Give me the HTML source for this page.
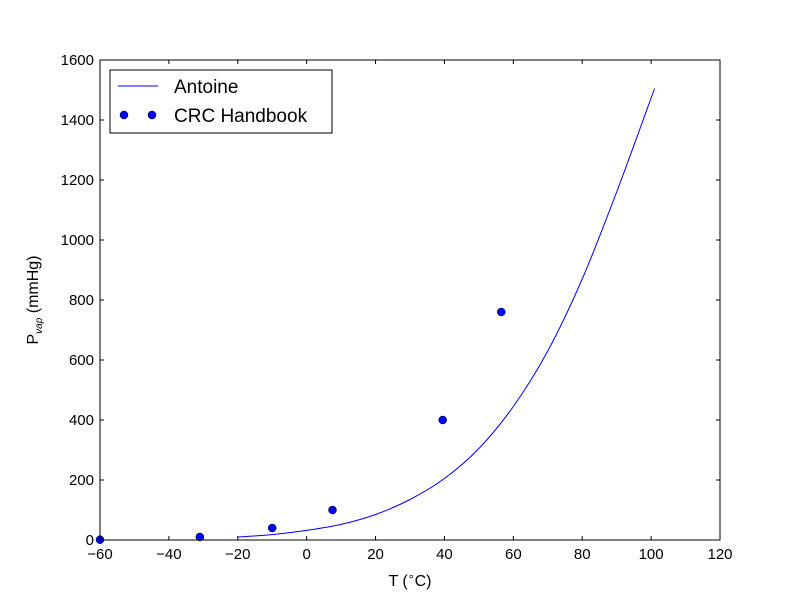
<!DOCTYPE html>
<html><head><meta charset="utf-8"><style>
body{margin:0;background:#fff;}
svg text{font-family:"Liberation Sans","DejaVu Sans",sans-serif;}
</style></head><body>
<svg id="chart" width="800" height="600" xmlns="http://www.w3.org/2000/svg">
<rect x="0" y="0" width="800" height="600" fill="#fff"/>
<g id="plot"></g>
</svg>
<script>
const antoineT = [-20,-10,0,10,20,30,40,50,60,70,80,90,101];
const antoineP = [10,18,32,52,85,135,205,305,445,630,870,1160,1505];
const crcT = [-60,-31,-10,7.5,39.5,56.5];
const crcP = [1,10,40,100,400,760];
const xTicks = [-60,-40,-20,0,20,40,60,80,100,120];
const yTicks = [0,200,400,600,800,1000,1200,1400,1600];

const L=100,R=720,T=60,B=540;
const xs=v=>L+(v-(-60))/(180)*(R-L);
const ys=v=>B-v/1600*(B-T);
const NS='http://www.w3.org/2000/svg';
const g=document.getElementById('plot');
function mk(tag,attrs,parent){const e=document.createElementNS(NS,tag);for(const k in attrs)e.setAttribute(k,attrs[k]);(parent||g).appendChild(e);return e;}

// smooth line (Catmull-Rom)
const P=antoineT.map((t,i)=>[xs(t),ys(antoineP[i])]);
let d='M'+P[0][0]+','+P[0][1];
for(let i=0;i<P.length-1;i++){
 const p0=P[i-1]||P[i],p1=P[i],p2=P[i+1],p3=P[i+2]||P[i+1];
 const c1=[p1[0]+(p2[0]-p0[0])/6,p1[1]+(p2[1]-p0[1])/6];
 const c2=[p2[0]-(p3[0]-p1[0])/6,p2[1]-(p3[1]-p1[1])/6];
 d+=' C'+c1[0]+','+c1[1]+' '+c2[0]+','+c2[1]+' '+p2[0]+','+p2[1];
}
const line=mk('path',{d:d,fill:'none',stroke:'#0000ff','stroke-width':1});



crcT.forEach((t,i)=>{
 const c=mk('circle',{cx:xs(t),cy:ys(crcP[i]),r:4,fill:'#0000ff',stroke:'#000','stroke-width':0.5});
 
 
});

const fr=mk('rect',{x:L,y:T,width:R-L,height:B-T,fill:'none',stroke:'#000','stroke-width':1});



xTicks.forEach(v=>{
 const x=xs(v);
 mk('line',{x1:x,x2:x,y1:B,y2:B-4,stroke:'#000'});
 mk('line',{x1:x,x2:x,y1:T,y2:T+4,stroke:'#000'});
 const tx=mk('text',{x:x,y:B+19,'font-size':15,'text-anchor':'middle'});
 tx.textContent=v<0?'\u2212'+(-v):v;
 
 
});
yTicks.forEach(v=>{
 const y=ys(v);
 mk('line',{x1:L,x2:L+4,y1:y,y2:y,stroke:'#000'});
 mk('line',{x1:R,x2:R-4,y1:y,y2:y,stroke:'#000'});
 const tx=mk('text',{x:L-6,y:y+5,'font-size':15,'text-anchor':'end'});
 tx.textContent=v;
 
 
});
</script>
<svg width="800" height="600" style="position:absolute;left:0;top:0" xmlns="http://www.w3.org/2000/svg">
<text x="410" y="586" font-size="16" text-anchor="middle" font-family="Liberation Sans,sans-serif">T (<tspan font-size="11" dy="-6">∘</tspan><tspan dy="6">C)</tspan></text>
<text transform="translate(38,300) rotate(-90)" font-size="16" text-anchor="middle" font-family="Liberation Sans,sans-serif">P<tspan font-size="10" dy="4" font-style="italic">vap</tspan><tspan dy="-4"> (mmHg)</tspan></text>
<g>
<rect x="110" y="70" width="222" height="63" fill="#fff" stroke="#000" stroke-width="1"/>
<line x1="118" x2="158" y1="86" y2="86" stroke="#0000ff"/>
<text x="174" y="93" font-size="19" font-family="Liberation Sans,sans-serif">Antoine</text>
<circle cx="124" cy="115" r="4" fill="#0000ff" stroke="#000" stroke-width="0.5"/>
<circle cx="152" cy="115" r="4" fill="#0000ff" stroke="#000" stroke-width="0.5"/>
<text x="174" y="122" font-size="19" font-family="Liberation Sans,sans-serif">CRC Handbook</text>
</g>
</svg>
</body></html>
